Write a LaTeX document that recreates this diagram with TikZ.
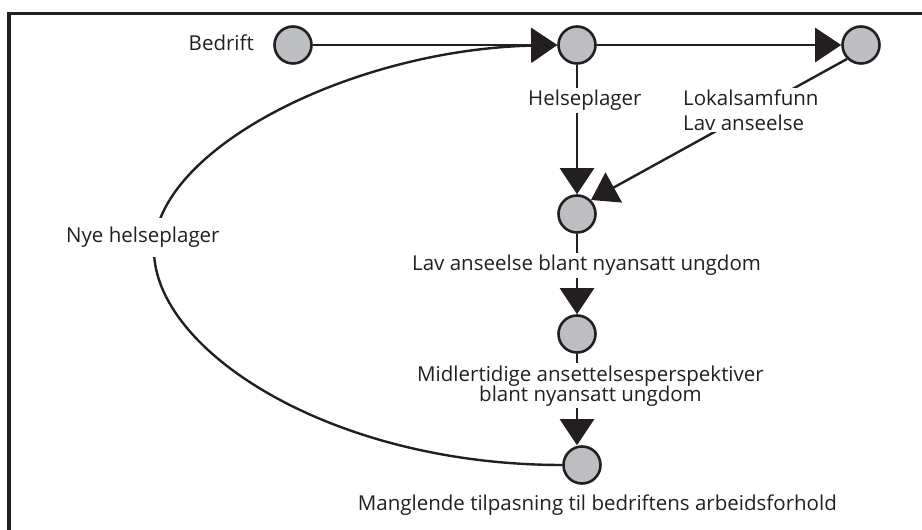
\documentclass[tikz,border=0pt]{standalone}
\usepackage{fontspec}
\setmainfont{Open Sans}
\usetikzlibrary{positioning,arrows.meta}
\definecolor{ink}{RGB}{35,31,32}
\definecolor{dotgray}{RGB}{189,190,193}

\begin{document}
\begin{tikzpicture}[x=1pt,y=1pt,
	dot/.style={circle,draw=ink,fill=dotgray,line width=2.6pt,inner sep=0pt,minimum size=37pt,on grid},
	tag/.style={font=\fontsize{20.5}{25}\selectfont,text=ink,inner sep=2pt},
	tagw/.style={tag,fill=white},
	flow/.style={draw=ink,line width=2.4pt,-{Triangle[length=26pt,width=34pt]}}]
	\useasboundingbox (0,0) rectangle (922,530);
	\draw[ink,line width=3.5pt] (9,-30) -- (9,516.5) -- (960,516.5);
	% circles
	\node[dot] (n0) at (293,485) {};
	\node[dot,right=284pt of n0] (n1) {};
	\node[dot,right=284pt of n1] (n2) {};
	\node[dot,below=169pt of n1] (n3) {};
	\node[dot,below=120pt of n3] (n4) {};
	\node[dot,below=131pt of n4,xshift=5pt] (n5) {};
	% connectors
	\draw[flow] (n0) -- (n1);
	\draw[flow] (n1) -- (n2);
	\draw[flow] (n1) -- (n3);
	\draw[flow] (n2.south west) -- (n3.north east);
	\draw[flow] (n3) -- (n4);
	\draw[flow] (n4.south) -- (n4.south |- n5.north);
	\draw[flow] (n5.west) .. controls (330,65) and (154,180) .. (154,280)
		.. controls (154,380) and (350,480) .. (n1.west);
	% labels
	\node[tag,anchor=base east] (t0) at (256,479) {Bedrift};
	\node[tagw,anchor=base west] (t1) at (526,424) {Helseplager};
	\node[tagw,anchor=west,align=left] (t2) at (681,420) {Lokalsamfunn\\Lav anseelse};
	\node[tagw,anchor=base west] (t3) at (410,259) {Lav anseelse blant nyansatt ungdom};
	\node[tagw,anchor=west,align=center,font=\fontsize{20.5}{20.5}\selectfont] (t4) at (415,144)
		{Midlertidige ansettelsesperspektiver\\blant nyansatt ungdom};
	\node[tag,anchor=base east] (t5) at (839,19) {Manglende tilpasning til bedriftens arbeidsforhold};
	\node[tagw,anchor=base west,inner ysep=9pt] (t6) at (64,287) {Nye helseplager};
\end{tikzpicture}
\end{document}
